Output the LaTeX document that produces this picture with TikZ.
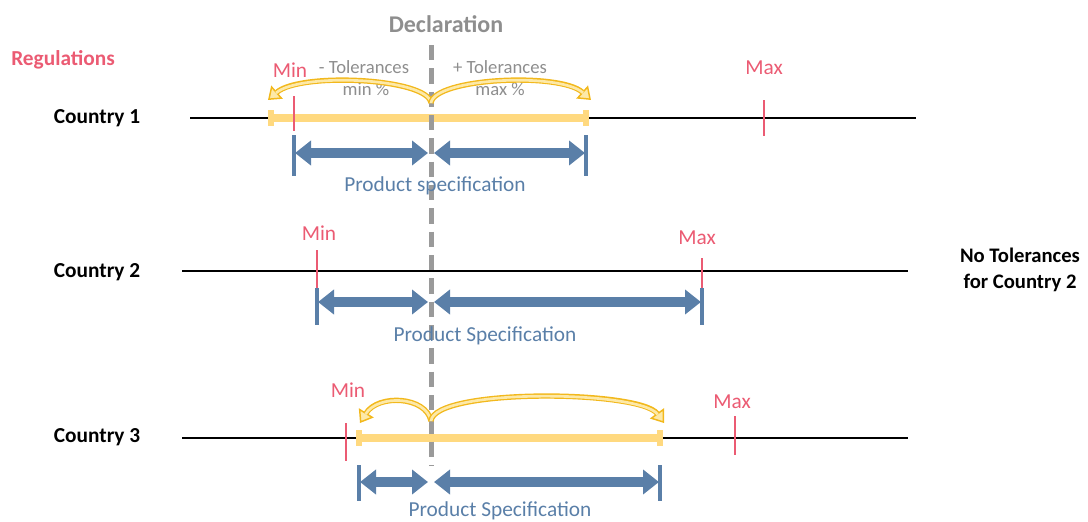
\documentclass[tikz,border=0pt]{standalone}
\usepackage{fontspec}
\setmainfont{Carlito}
\usetikzlibrary{arrows.meta}
\definecolor{regred}{HTML}{EB5B73}
\definecolor{specblue}{HTML}{5A7FA8}
\definecolor{txtgray}{HTML}{8E8E8E}
\definecolor{dashgray}{HTML}{9A9A9A}
\definecolor{tolbar}{HTML}{FFD97F}
\definecolor{tolorange}{HTML}{F2B81C}
\definecolor{tolpale}{HTML}{FDE9A8}
\tikzset{
  axisline/.style={line width=2.2pt, black},
  tolbarline/.style={line width=6.5pt, tolbar},
  tolcap/.style={line width=5pt, tolbar},
  regtick/.style={line width=1.5pt, regred},
  regtext/.style={text=regred, font=\fontsize{16}{19}\selectfont},
  specbar/.style={line width=3pt, specblue},
  specarrow/.style={line width=7.5pt, specblue, {Triangle[length=12pt,width=18pt]}-{Triangle[length=12pt,width=18pt]}},
  spectext/.style={text=specblue, font=\fontsize{16}{19}\selectfont},
  countrytext/.style={font=\bfseries\fontsize{16}{19}\selectfont},
  toltext/.style={text=txtgray, font=\fontsize{14}{16}\selectfont},
  declline/.style={line width=3.75pt, dashgray, dash pattern=on 11.5pt off 6pt},
  curveouter/.style={line width=4pt, tolorange, -{Triangle[line width=1.1pt, length=9pt, width=13pt, fill=tolpale]}},
  curveinner/.style={line width=2pt, tolpale, shorten >=8pt},
}
\begin{document}
\begin{tikzpicture}[x=0.75pt,y=-0.75pt]
\useasboundingbox (0,0) rectangle (1088,521);

% titles
\node[text=regred, font=\bfseries\fontsize{16}{19}\selectfont] (regs) at (63,60) {Regulations};
\node[text=txtgray, font=\bfseries\fontsize{18}{21}\selectfont] (decl) at (446,24) {Declaration};

% ---------------- Country 1 ----------------
\node[countrytext] (c1) at (97,118) {Country 1};
\coordinate (l1a) at (190,118); \coordinate (l1b) at (916,118);
\draw[axisline] (l1a) -- (l1b);
\coordinate (y1a) at (271,118); \coordinate (y1b) at (586,118);
\draw[tolbarline] (y1a) -- (y1b);
\draw[tolcap] (271,110) -- (271,126);
\draw[tolcap] (586,110) -- (586,126);
\draw[regtick] (294,96) -- (294,131);
\draw[regtick] (764,100) -- (764,136);
\node[regtext] (min1) at (290,70) {Min};
\node[regtext] (max1) at (764,68) {Max};
\node[toltext] (tm1) at (364,67) {- Tolerances};
\node[toltext] (tm2) at (366,89) {min \%};
\node[toltext] (tp1) at (500,67) {+ Tolerances};
\node[toltext] (tp2) at (500,89) {max \%};

% ---------------- Country 2 ----------------
\node[countrytext] (c2) at (97,272) {Country 2};
\coordinate (l2a) at (182,271); \coordinate (l2b) at (908,271);
\draw[axisline] (l2a) -- (l2b);
\draw[regtick] (317,250) -- (317,288);
\draw[regtick] (702,258) -- (702,290);
\node[regtext] (min2) at (319,233) {Min};
\node[regtext] (max2) at (697,238) {Max};
\node[align=center, font=\bfseries\fontsize{15.5}{20}\selectfont] (notol) at (1020,270) {No Tolerances\\for Country 2};

% ---------------- Country 3 ----------------
\node[countrytext] (c3) at (97,437) {Country 3};
\coordinate (l3a) at (182,438); \coordinate (l3b) at (908,438);
\draw[axisline] (l3a) -- (l3b);
\coordinate (y3a) at (359,438); \coordinate (y3b) at (660,438);
\draw[tolbarline] (y3a) -- (y3b);
\draw[tolcap] (359,430) -- (359,446);
\draw[tolcap] (660,430) -- (660,446);
\draw[regtick] (346,423) -- (346,461);
\draw[regtick] (735,416) -- (735,455);
\node[regtext] (min3) at (348,390) {Min};
\node[regtext] (max3) at (732,402) {Max};

% declaration dashed line
\coordinate (dtop) at (431,45); \coordinate (dbot) at (431,466);
\draw[declline] (dtop) -- (dbot);

% ---------------- product specification arrows ----------------
% Country 1
\draw[specbar] (294,135) -- (294,176);
\draw[specbar] (586,135) -- (586,176);
\coordinate (p1a) at (295,153); \coordinate (p1m1) at (428,153);
\coordinate (p1m2) at (434,153); \coordinate (p1b) at (585,153);
\draw[specarrow] (p1a) -- (p1m1);
\draw[specarrow] (p1m2) -- (p1b);
\node[spectext] (ps1) at (435,186) {Product specification};
% Country 2
\draw[specbar] (317,288) -- (317,325);
\draw[specbar] (702,288) -- (702,325);
\coordinate (p2a) at (318,302); \coordinate (p2m1) at (428,302);
\coordinate (p2m2) at (434,302); \coordinate (p2b) at (701,302);
\draw[specarrow] (p2a) -- (p2m1);
\draw[specarrow] (p2m2) -- (p2b);
\node[spectext] (ps2) at (485,336) {Product Specification};
% Country 3
\draw[specbar] (359,465) -- (359,501);
\draw[specbar] (660,465) -- (660,501);
\coordinate (p3a) at (360,482); \coordinate (p3m1) at (428,482);
\coordinate (p3m2) at (434,482); \coordinate (p3b) at (659,482);
\draw[specarrow] (p3a) -- (p3m1);
\draw[specarrow] (p3m2) -- (p3b);
\node[spectext] (ps3) at (500,511) {Product Specification};

% ---------------- tolerance curved arrows ----------------
\coordinate (o1) at (431,103);
\coordinate (e1l) at (268,100); \coordinate (e1r) at (591,100);
\draw[curveouter] (o1) .. controls (428,78) and (300,72) .. (e1l);
\draw[curveinner] (o1) .. controls (428,78) and (300,72) .. (e1l);
\draw[curveouter] (o1) .. controls (434,78) and (560,72) .. (e1r);
\draw[curveinner] (o1) .. controls (434,78) and (560,72) .. (e1r);

\coordinate (o3) at (431,421);
\coordinate (e3l) at (360,423); \coordinate (e3r) at (664,423);
\draw[curveouter] (o3) .. controls (426,396) and (378,394) .. (e3l);
\draw[curveinner] (o3) .. controls (426,396) and (378,394) .. (e3l);
\draw[curveouter] (o3) .. controls (434,388) and (640,390) .. (e3r);
\draw[curveinner] (o3) .. controls (434,388) and (640,390) .. (e3r);
\end{tikzpicture}
\end{document}
